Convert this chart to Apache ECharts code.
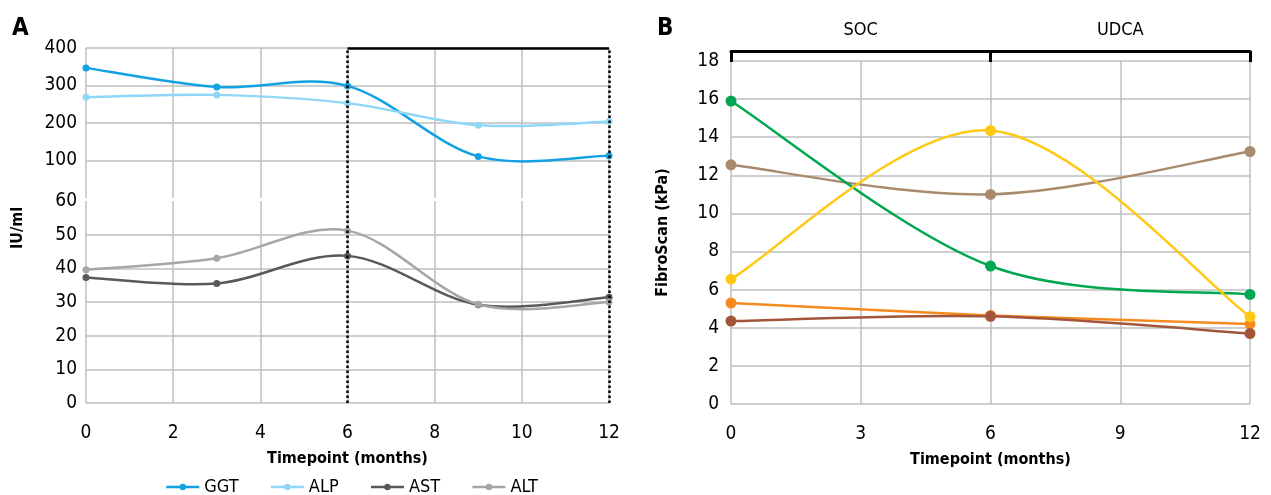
<!DOCTYPE html>
<html>
<head>
<meta charset="utf-8">
<title>Liver enzymes and FibroScan</title>
<script src="https://cdn.jsdelivr.net/npm/echarts@6/dist/echarts.min.js"></script>
<style>
  html, body { margin: 0; padding: 0; background: #fff; }
  #chart { width: 1271px; height: 495px; }
</style>
</head>
<body>
<div id="chart"></div>
<script>
// timepoints (months)
var monthsA = [0, 3, 6, 9, 12];
var monthsB = [0, 6, 12];

// panel A, IU/ml
var ggt = [347, 296, 299, 111, 113];
var alp = [269, 275, 253, 194, 204];
var ast = [37.3, 35.5, 43.7, 29.2, 31.4];
var alt = [39.6, 43.0, 51.2, 29.3, 30.0];

// panel B, FibroScan kPa (one line per patient)
var fsGreen = [15.9, 7.24, 5.75];
var fsYellow = [6.55, 14.35, 4.58];
var fsTan = [12.55, 11.0, 13.25];
var fsOrange = [5.3, 4.65, 4.2];
var fsRust = [4.35, 4.6, 3.7];

var phaseLabels = { 3: 'SOC', 9: 'UDCA' };

var FONT = '"Liberation Sans Narrow", "DejaVu Sans Condensed", sans-serif';
var GRID = '#bfbfbf';

function pts(xs, ys) {
    return xs.map(function (x, i) { return [x, ys[i]]; });
}

// spreadsheet-style smoothed line: one bezier segment per point, control
// points from the neighbours (catmull-rom, ends repeated)
function curve(xs, ys, color, idx) {
    var n = xs.length;
    return {
        type: 'custom',
        xAxisIndex: idx,
        yAxisIndex: idx,
        data: pts(xs, ys),
        encode: { x: 0, y: 1 },
        silent: true,
        z: 2,
        renderItem: function (params, api) {
            var i = params.dataIndex;
            if (i >= n - 1) return null;
            var p = function (k) {
                k = Math.max(0, Math.min(n - 1, k));
                return api.coord([xs[k], ys[k]]);
            };
            var p0 = p(i - 1), p1 = p(i), p2 = p(i + 1), p3 = p(i + 2);
            return {
                type: 'bezierCurve',
                shape: {
                    x1: p1[0], y1: p1[1], x2: p2[0], y2: p2[1],
                    cpx1: p1[0] + (p2[0] - p0[0]) / 6, cpy1: p1[1] + (p2[1] - p0[1]) / 6,
                    cpx2: p2[0] - (p3[0] - p1[0]) / 6, cpy2: p2[1] - (p3[1] - p1[1]) / 6
                },
                style: { stroke: color, lineWidth: 2.5, fill: null }
            };
        }
    };
}

// markers only (the curve is drawn by the custom series)
function dots(name, xs, ys, color, idx, size, extra) {
    var s = {
        name: name,
        type: 'line',
        xAxisIndex: idx,
        yAxisIndex: idx,
        data: pts(xs, ys),
        symbol: 'circle',
        symbolSize: size,
        showAllSymbol: true,
        lineStyle: { color: color, width: 0 },
        itemStyle: { color: color },
        z: 3
    };
    return Object.assign(s, extra || {});
}

var dotted = { color: '#000', type: 'dotted', width: 2.5 };

var series = [
    dots('GGT', monthsA, ggt, '#12a2e3', 0, 7, {
        markLine: {
            silent: true, symbol: 'none', label: { show: false },
            data: [
                [{ coord: [6, 400], lineStyle: { color: '#000', type: 'solid', width: 2.5 } },
                 { coord: [12, 400] }],
                { xAxis: 6, lineStyle: dotted },
                { xAxis: 12, lineStyle: dotted }
            ]
        }
    }),
    dots('ALP', monthsA, alp, '#8fd7f7', 0, 7),
    dots('AST', monthsA, ast, '#595959', 1, 7, {
        markLine: {
            silent: true, symbol: 'none', label: { show: false },
            data: [
                { xAxis: 6, lineStyle: dotted },
                { xAxis: 12, lineStyle: dotted }
            ]
        }
    }),
    dots('ALT', monthsA, alt, '#a6a6a6', 1, 7),
    curve(monthsA, ggt, '#12a2e3', 0),
    curve(monthsA, alp, '#8fd7f7', 0),
    curve(monthsA, ast, '#595959', 1),
    curve(monthsA, alt, '#a6a6a6', 1)
];

var panelB = [
    [fsTan, '#a88b6c'],
    [fsOrange, '#f58a1f'],
    [fsRust, '#a3553a'],
    [fsGreen, '#00a650'],
    [fsYellow, '#ffc913']
];
panelB.forEach(function (d) {
    series.push(curve(monthsB, d[0], d[1], 2));
    series.push(dots('', monthsB, d[0], d[1], 2, 11));
});

var chart = echarts.init(document.getElementById('chart'));
chart.setOption({
    animation: false,
    textStyle: { fontFamily: FONT },
    title: [
        { text: 'A', left: 7, top: 12, textStyle: { fontFamily: FONT, fontSize: 24, fontWeight: 'bold', color: '#000' } },
        { text: 'B', left: 652, top: 12, textStyle: { fontFamily: FONT, fontSize: 24, fontWeight: 'bold', color: '#000' } }
    ],
    graphic: [{
        type: 'text',
        x: 18, y: 228,
        rotation: Math.PI / 2,
        style: { text: 'IU/ml', font: 'bold 16px ' + FONT, fill: '#000', align: 'center', verticalAlign: 'middle' }
    }],
    legend: {
        data: ['GGT', 'ALP', 'AST', 'ALT'],
        left: 160, top: 473,
        itemWidth: 33, itemHeight: 8, itemGap: 31,
        lineStyle: { width: 2.5 },
        textStyle: { fontFamily: FONT, fontSize: 18, color: '#000' }
    },
    grid: [
        { left: 86, width: 523, top: 48, height: 150 },
        { left: 86, width: 523, top: 201, height: 202 },
        { left: 731, width: 519, top: 61, height: 343 }
    ],
    xAxis: [
        {
            gridIndex: 0, type: 'value', min: 0, max: 12, interval: 2,
            axisLine: { show: false }, axisTick: { show: false }, axisLabel: { show: false },
            splitLine: { lineStyle: { color: GRID, width: 1.5 } }
        },
        {
            gridIndex: 1, type: 'value', min: 0, max: 12, interval: 2,
            axisLine: { show: false }, axisTick: { show: false },
            axisLabel: { margin: 21, fontSize: 19, color: '#000' },
            splitLine: { lineStyle: { color: GRID, width: 1.5 } },
            name: 'Timepoint (months)', nameLocation: 'middle', nameGap: 48,
            nameTextStyle: { fontSize: 16, fontWeight: 'bold', color: '#000' }
        },
        {
            gridIndex: 2, type: 'value', min: 0, max: 12, interval: 3,
            axisLine: { show: false }, axisTick: { show: false },
            axisLabel: { margin: 21, fontSize: 19, color: '#000' },
            splitLine: { lineStyle: { color: GRID, width: 1.5 } },
            name: 'Timepoint (months)', nameLocation: 'middle', nameGap: 48,
            nameTextStyle: { fontSize: 16, fontWeight: 'bold', color: '#000' }
        },
        {
            // treatment bracket above panel B
            gridIndex: 2, type: 'value', min: 0, max: 12, interval: 6,
            position: 'top', offset: 10,
            axisLine: { show: true, lineStyle: { color: '#000', width: 3 } },
            axisTick: { show: true, inside: true, length: 11, lineStyle: { color: '#000', width: 3 } },
            axisLabel: { show: false }, splitLine: { show: false }
        },
        {
            gridIndex: 2, type: 'value', min: 0, max: 12, interval: 3,
            position: 'top', offset: 14,
            axisLine: { show: false }, axisTick: { show: false }, splitLine: { show: false },
            axisLabel: {
                margin: 8, fontSize: 18, color: '#000',
                formatter: function (v) { return phaseLabels[v] || ''; }
            }
        }
    ],
    yAxis: [
        {
            gridIndex: 0, type: 'value', min: 0, max: 400, interval: 100,
            axisLine: { show: false }, axisTick: { show: false },
            axisLabel: { showMinLabel: false, margin: 9, fontSize: 19, color: '#000' },
            splitLine: { showMinLine: false, lineStyle: { color: GRID, width: 1.5 } }
        },
        {
            gridIndex: 1, type: 'value', min: 0, max: 60, interval: 10,
            axisLine: { show: false }, axisTick: { show: false },
            axisLabel: { margin: 9, fontSize: 19, color: '#000' },
            splitLine: { showMaxLine: false, lineStyle: { color: GRID, width: 1.5 } }
        },
        {
            gridIndex: 2, type: 'value', min: 0, max: 18, interval: 2,
            axisLine: { show: false }, axisTick: { show: false },
            axisLabel: { margin: 12, fontSize: 19, color: '#000' },
            splitLine: { lineStyle: { color: GRID, width: 1.5 } },
            name: 'FibroScan (kPa)', nameLocation: 'middle', nameGap: 60,
            nameTextStyle: { fontSize: 16, fontWeight: 'bold', color: '#000' }
        }
    ],
    series: series
});
</script>
</body>
</html>
